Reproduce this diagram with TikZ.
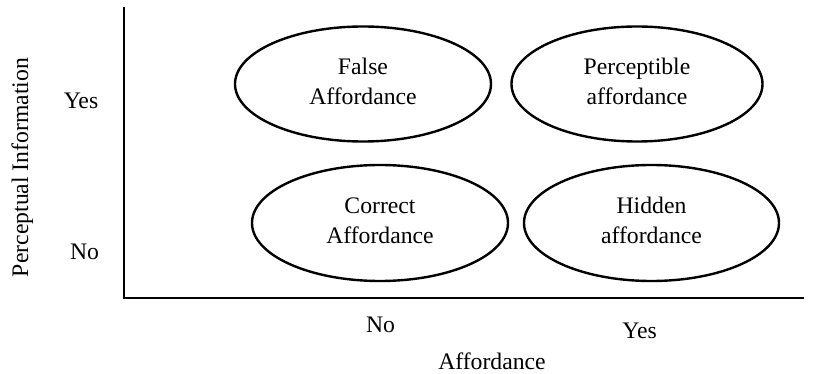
\documentclass[tikz,border=0pt]{standalone}
\usepackage{fontspec}
\setmainfont{Liberation Serif}
\usetikzlibrary{shapes.geometric}

\tikzset{
  quad/.style={ellipse, draw=black, line width=2.4pt, inner sep=0pt},
  quadtext/.style={align=center, inner sep=0pt, font=\fontsize{23.7}{30}\selectfont},
  axislabel/.style={anchor=base, inner sep=0pt, font=\fontsize{23.7}{30}\selectfont},
  axisline/.style={draw=black, line width=1.3pt}
}

\begin{document}
\begin{tikzpicture}[x=1pt, y=-1pt]
\useasboundingbox (0,0) rectangle (820,374);

% axes
\coordinate (ytop) at (124,7);
\coordinate (origin) at (124,298);
\coordinate (xend) at (804,298);
\draw[axisline] (ytop) -- (origin) -- (xend);

% quadrant ellipses
\node[quad, minimum width=256pt, minimum height=115pt] (false) at (363,84) {};
\node[quad, minimum width=251pt, minimum height=115pt] (percept) at (637,84) {};
\node[quad, minimum width=256pt, minimum height=116pt] (correct) at (380,223) {};
\node[quad, minimum width=255pt, minimum height=116pt] (hidden) at (651.5,223) {};

\node[quadtext] (falsetxt) at ([yshift=2.5pt]false.center) {False\\Affordance};
\node[quadtext] (percepttxt) at ([yshift=2.5pt]percept.center) {Perceptible\\affordance};
\node[quadtext] (correcttxt) at ([yshift=2.5pt]correct.center) {Correct\\Affordance};
\node[quadtext] (hiddentxt) at ([yshift=2.5pt]hidden.center) {Hidden\\affordance};

% vertical axis labels
\node[axislabel] (yyes) at (81,109) {Yes};
\node[axislabel] (yno) at (84.5,260) {No};
\node[axislabel, rotate=90] (ytitle) at (28,167.5) {Perceptual Information};

% horizontal axis labels
\node[axislabel] (xno) at (380.5,333) {No};
\node[axislabel] (xyes) at (639.5,338) {Yes};
\node[axislabel] (xtitle) at (492,369) {Affordance};
\end{tikzpicture}
\end{document}
